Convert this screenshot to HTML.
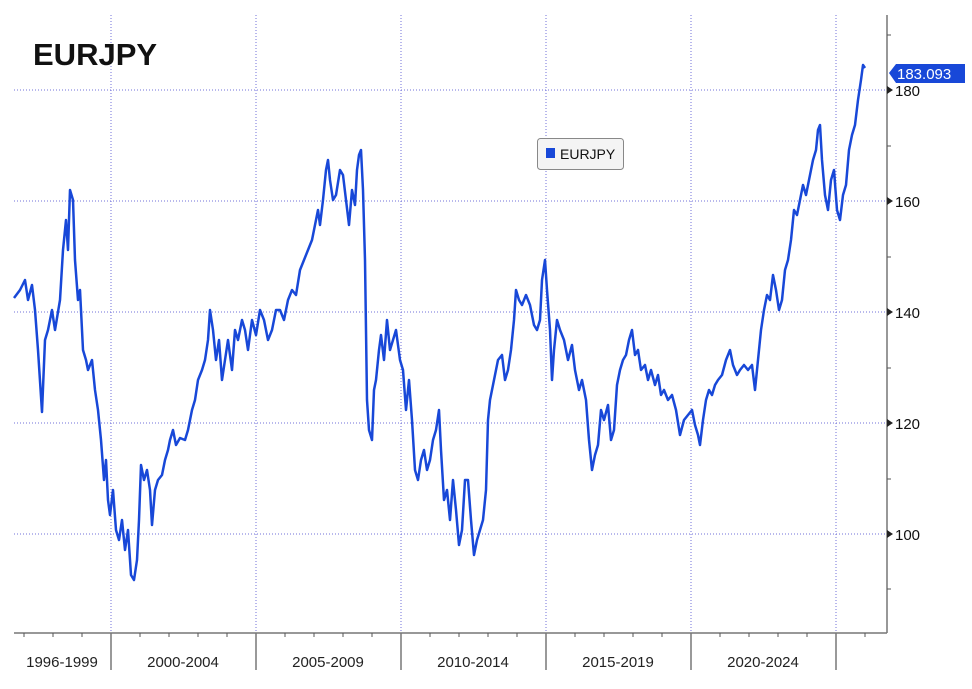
<!DOCTYPE html>
<html><head><style>
body{margin:0;background:#fff;}
svg{display:block;font-family:"Liberation Sans","DejaVu Sans",sans-serif;}
</style></head><body>
<svg width="972" height="689" viewBox="0 0 972 689">
<rect width="972" height="689" fill="#fff"/>
<g stroke="#7070d8" stroke-width="1" stroke-dasharray="1,2">
<line x1="14" y1="90" x2="886" y2="90"/><line x1="14" y1="201" x2="886" y2="201"/>
<line x1="14" y1="312" x2="886" y2="312"/><line x1="14" y1="423" x2="886" y2="423"/>
<line x1="14" y1="534" x2="886" y2="534"/>
<line x1="111" y1="15" x2="111" y2="633"/><line x1="256" y1="15" x2="256" y2="633"/>
<line x1="401" y1="15" x2="401" y2="633"/><line x1="546" y1="15" x2="546" y2="633"/>
<line x1="691" y1="15" x2="691" y2="633"/><line x1="836" y1="15" x2="836" y2="633"/>
</g>
<g stroke="#777" stroke-width="1.5" fill="none">
<line x1="14" y1="633" x2="887" y2="633"/>
<line x1="887" y1="15" x2="887" y2="633"/>
<line x1="111" y1="633" x2="111" y2="670"/><line x1="256" y1="633" x2="256" y2="670"/>
<line x1="401" y1="633" x2="401" y2="670"/><line x1="546" y1="633" x2="546" y2="670"/>
<line x1="691" y1="633" x2="691" y2="670"/><line x1="836" y1="633" x2="836" y2="670"/>
</g>
<g stroke="#555" stroke-width="1">
<path d="M24 633v4M53 633v4M82 633v4M140 633v4M169 633v4M198 633v4M227 633v4M285 633v4M314 633v4M343 633v4M372 633v4M430 633v4M459 633v4M488 633v4M517 633v4M575 633v4M604 633v4M633 633v4M662 633v4M720 633v4M749 633v4M778 633v4M807 633v4M865 633v4"/>
<path d="M887 35h4M887 146h4M887 257h4M887 368h4M887 479h4M887 589h4"/>
</g>
<g fill="#222"><path d="M887 86l6 4-6 4zM887 197l6 4-6 4zM887 308l6 4-6 4zM887 419l6 4-6 4zM887 530l6 4-6 4z"/></g>
<g font-size="15" fill="#111">
<text x="895" y="96">180</text><text x="895" y="207">160</text><text x="895" y="318">140</text>
<text x="895" y="429">120</text><text x="895" y="540">100</text>
</g>
<g font-size="15" fill="#222" text-anchor="middle">
<text x="62" y="667">1996-1999</text><text x="183" y="667">2000-2004</text>
<text x="328" y="667">2005-2009</text><text x="473" y="667">2010-2014</text>
<text x="618" y="667">2015-2019</text><text x="763" y="667">2020-2024</text>
</g>
<path d="M889 73l7-9h69v19h-69z" fill="#1848d8"/>
<text x="897" y="79" font-size="15" fill="#fff">183.093</text>
<text x="33" y="65" font-size="31" font-weight="bold" fill="#111">EURJPY</text>
<rect x="537.5" y="138.5" width="86" height="31" rx="3" fill="#f4f4f4" stroke="#888"/>
<rect x="546" y="148" width="9" height="10" fill="#1848d8"/>
<text x="560" y="159" font-size="14" fill="#111">EURJPY</text>
<polyline fill="none" stroke="#1848d8" stroke-width="2.5" stroke-linejoin="round" points="14,298 20,290 25,280 28,300 32,285 35,310 38,350 42,412 45,340 48,330 52,310 55,330 60,300 63,250 66,220 68,250 70,190 73,200 75,260 78,300 80,290 83,350 86,360 88,370 92,360 95,390 98,410 101,440 104,480 106,460 108,500 110,515 113,490 116,530 119,540 122,520 125,550 128,530 131,575 134,580 137,560 139,520 141,465 144,480 147,470 150,490 152,525 155,490 158,480 162,475 165,460 168,450 170,440 173,430 176,445 180,438 185,440 188,430 192,410 195,400 198,380 202,370 205,360 208,340 210,310 213,330 216,360 219,340 222,380 225,360 228,340 232,370 235,330 238,340 242,320 245,330 248,350 252,320 256,335 260,310 264,320 268,340 272,330 276,310 280,310 284,320 288,300 292,290 296,295 300,270 304,260 308,250 312,240 316,220 318,210 320,225 323,200 326,170 328,160 330,180 333,200 336,195 340,170 343,175 346,200 349,225 352,190 355,205 357,170 359,155 361,150 363,190 365,260 367,400 369,430 372,440 374,390 376,380 379,350 381,335 384,360 387,320 390,350 393,340 396,330 400,360 403,370 406,410 409,380 412,420 415,470 418,480 421,460 424,450 427,470 430,460 433,440 436,430 439,410 441,450 444,500 447,490 450,520 453,480 456,510 459,545 462,530 465,480 468,480 471,520 474,555 477,540 480,530 483,520 486,490 488,420 490,400 494,380 498,360 502,355 505,380 508,370 511,350 514,320 516,290 519,300 522,305 526,295 530,305 534,325 537,330 540,320 542,280 545,260 547,290 550,330 552,380 554,350 557,320 560,330 564,340 568,360 572,345 575,370 579,390 582,380 586,400 589,440 592,470 595,455 598,445 601,410 604,420 608,405 611,440 614,430 617,385 620,370 623,360 626,355 629,340 632,330 635,355 638,350 641,370 645,365 648,380 651,370 655,385 658,375 661,395 664,390 668,400 672,395 676,410 680,435 684,420 688,415 692,410 695,425 698,435 700,445 703,420 706,400 709,390 712,395 715,385 718,380 722,375 726,360 730,350 733,365 737,375 740,370 744,365 748,370 752,365 755,390 758,360 761,330 764,310 767,295 770,300 773,275 776,290 779,310 782,300 785,270 788,260 791,240 794,210 797,215 800,200 803,185 806,195 810,175 813,160 816,150 818,130 820,125 822,160 825,195 828,210 831,180 834,170 837,210 840,220 843,195 846,185 849,150 852,135 855,125 858,100 861,80 863,65 865,68"/>
</svg>
</body></html>
